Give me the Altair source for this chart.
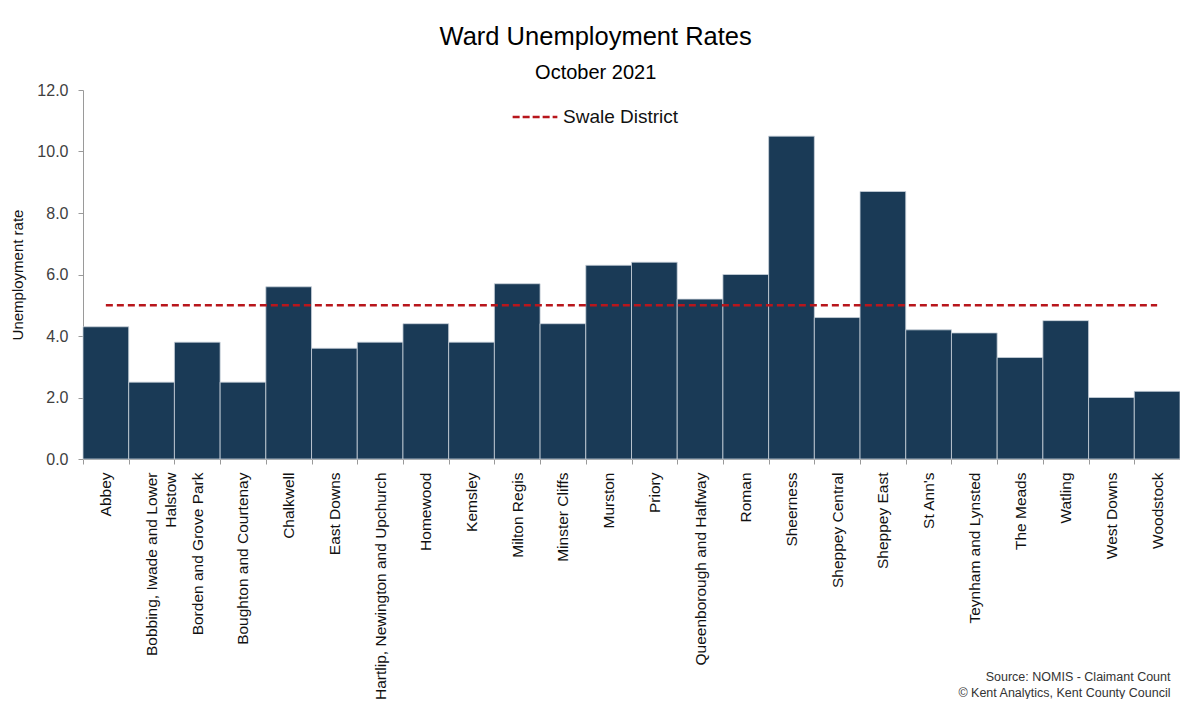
import altair as alt
import pandas as pd

wards = [
    "Abbey", "Bobbing, Iwade and Lower Halstow", "Borden and Grove Park",
    "Boughton and Courtenay", "Chalkwell", "East Downs",
    "Hartlip, Newington and Upchurch", "Homewood", "Kemsley", "Milton Regis",
    "Minster Cliffs", "Murston", "Priory", "Queenborough and Halfway", "Roman",
    "Sheerness", "Sheppey Central", "Sheppey East", "St Ann's",
    "Teynham and Lynsted", "The Meads", "Watling", "West Downs", "Woodstock",
]
rates = [4.3, 2.5, 3.8, 2.5, 5.6, 3.6, 3.8, 4.4, 3.8, 5.7, 4.4, 6.3, 6.4, 5.2,
         6.0, 10.5, 4.6, 8.7, 4.2, 4.1, 3.3, 4.5, 2.0, 2.2]
district_rate = 5.0
district_label = "Swale  District"
y_ticks = [0, 2, 4, 6, 8, 10, 12]
source_lines = ["Source: NOMIS - Claimant Count", "© Kent Analytics, Kent County Council"]

df = pd.DataFrame({"ward": wards, "rate": rates})
ref = pd.DataFrame({"start": [wards[0]], "end": [wards[-1]],
                    "rate": [district_rate], "series": [district_label]})

FONT = "Liberation Sans"
W, H = 1097, 369

x_scale = alt.Scale(domain=wards, paddingInner=0, paddingOuter=0)
y_scale = alt.Scale(domain=[0, 12])

bars = alt.Chart(df).mark_bar(color="#1a3a56", stroke="#c9d2db", strokeWidth=0.8).encode(
    x=alt.X("ward:N", sort=wards, scale=x_scale,
            axis=alt.Axis(
                title=source_lines, titleFont=FONT, titleFontSize=12.5,
                titleFontWeight="normal", titleColor="#333333",
                titleAnchor="end", titleAlign="right", titleBaseline="top",
                titleX=W - 10, titleY=211, titleLineHeight=16,
                labelAngle=270, labelAlign="right", labelBaseline="middle",
                labelFont=FONT, labelFontSize=15.5, labelColor="#111111",
                labelPadding=8, labelLimit=0, labelLineHeight=19,
                labelExpr="datum.value == 'Bobbing, Iwade and Lower Halstow' ? ['Bobbing, Iwade and Lower', 'Halstow'] : datum.label",
                tickBand="extent", tickSize=5, tickColor="#9a9a9a",
                domainColor="#9a9a9a", labelOverlap=False)),
    y=alt.Y("rate:Q", scale=y_scale,
            axis=alt.Axis(
                title="Unemployment rate", titleFont=FONT, titleFontSize=15,
                titleFontWeight="normal", titleColor="#111111", titlePadding=11,
                values=y_ticks, format=".1f", labelFont=FONT, labelFontSize=16,
                labelColor="#404040", labelPadding=10, tickSize=5,
                tickColor="#9a9a9a", domainColor="#9a9a9a", grid=False)),
)

rule = alt.Chart(ref).mark_rule(strokeDash=[7, 4], strokeWidth=2.5).encode(
    x=alt.X("start:N", sort=wards, scale=x_scale),
    x2="end:N",
    y=alt.Y("rate:Q", scale=y_scale),
    color=alt.Color("series:N",
                    scale=alt.Scale(domain=[district_label], range=["#b8161c"]),
                    legend=alt.Legend(
                        title=None, orient="none", legendX=428, legendY=3,
                        symbolType="stroke", symbolDash=[7, 3],
                        symbolStrokeWidth=2.5, symbolSize=2000,
                        labelFont=FONT, labelFontSize=19, labelColor="#111111",
                        labelOffset=4)),
)

chart = alt.layer(bars, rule).properties(
    width=W, height=H,
    autosize=alt.AutoSizeParams(type="none"),
    padding={"left": 75, "top": 82, "right": 0, "bottom": 240},
    title=alt.TitleParams(
        "Ward Unemployment Rates", subtitle="October 2021",
        anchor="middle", frame="bounds", font=FONT, fontSize=25.5,
        fontWeight="normal", color="#000000", subtitleFont=FONT,
        subtitleFontSize=20, subtitleColor="#000000", subtitlePadding=13,
        offset=-1),
).configure_view(stroke=None)

chart.save("out.html", embed_options={"renderer": "svg", "actions": False})
